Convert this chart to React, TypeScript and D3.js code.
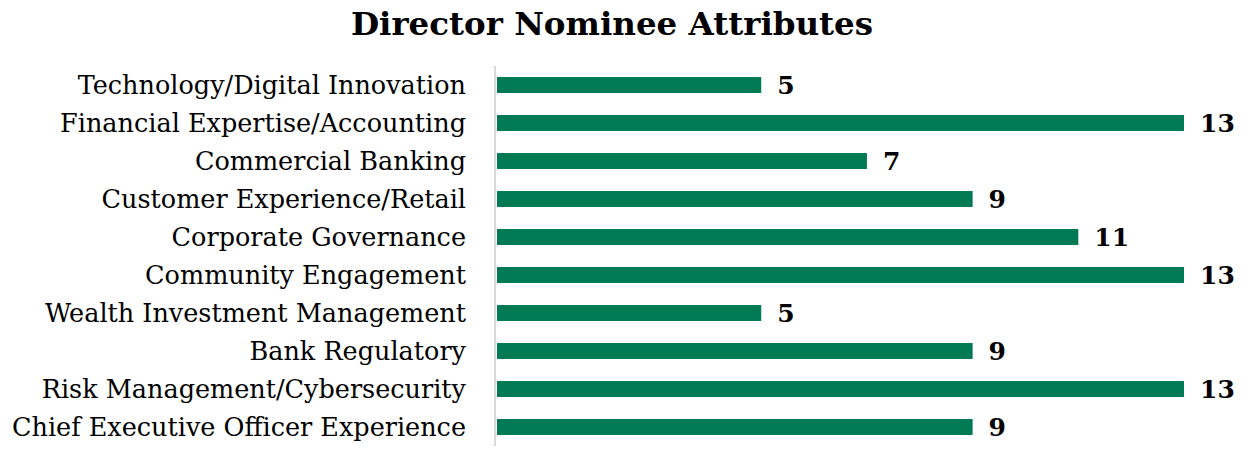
import React from "react";
import * as d3 from "d3";

const title = "Director Nominee Attributes";
const categories = [
  "Technology/Digital Innovation",
  "Financial Expertise/Accounting",
  "Commercial Banking",
  "Customer Experience/Retail",
  "Corporate Governance",
  "Community Engagement",
  "Wealth Investment Management",
  "Bank Regulatory",
  "Risk Management/Cybersecurity",
  "Chief Executive Officer Experience",
];
const values = [5, 13, 7, 9, 11, 13, 5, 9, 13, 9];

const W = 1248;
const H = 460;
const FONT = "'DejaVu Serif', serif";

export default function App() {
  const x = d3.scaleLinear().domain([0, 13]).range([497, 1184]);
  const y = d3.scaleBand<string>().domain(categories).range([66, 446]).paddingInner(0.58).paddingOuter(0.29);
  return (
    <svg width={W} height={H} style={{ position: "absolute", left: 0, top: 0, background: "#fff" }}>
      <text x={612} y={35} textAnchor="middle" fontFamily={FONT} fontWeight="bold" fontSize={32.5} fill="#000">
        {title}
      </text>
      <line x1={495} x2={495} y1={66} y2={446} stroke="#d9d9d9" strokeWidth={2} />
      {categories.map((c, i) => {
        const yy = y(c)!;
        const bw = y.bandwidth();
        const cy = yy + bw / 2;
        return (
          <g key={c}>
            <rect x={x(0)} y={yy} width={x(values[i]) - x(0)} height={bw} fill="#007a53" />
            <text x={466} y={cy} dy="0.35em" textAnchor="end" fontFamily={FONT} fontSize={25.5} fill="#000">
              {c}
            </text>
            <text x={x(values[i]) + 16} y={cy} dy="0.37em" fontFamily={FONT} fontWeight="bold" fontSize={25} fill="#000">
              {values[i]}
            </text>
          </g>
        );
      })}
    </svg>
  );
}
